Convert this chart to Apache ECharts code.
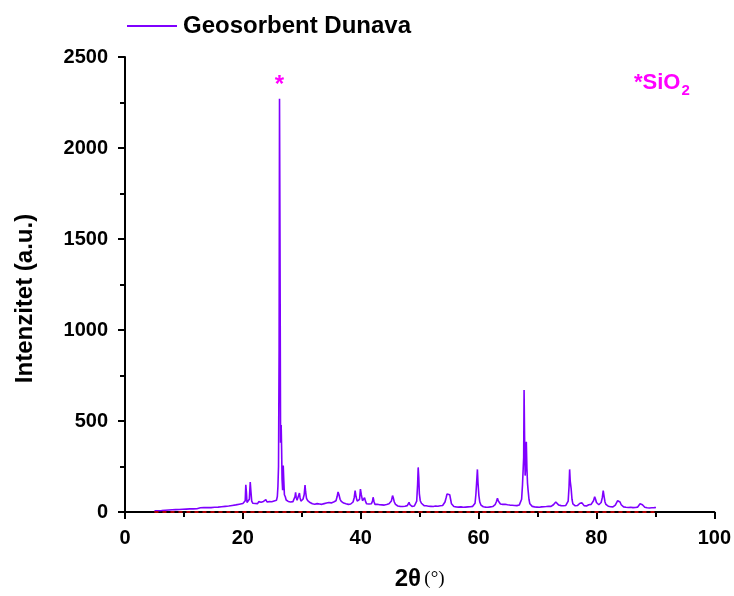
<!DOCTYPE html>
<html>
<head>
<meta charset="utf-8">
<script src="https://cdn.jsdelivr.net/npm/echarts@6/dist/echarts.min.js"></script>
<style>
html, body { margin: 0; padding: 0; background: #fff; }
#chart { width: 734px; height: 596px; }
</style>
</head>
<body>
<div id="chart"></div>
<script>
// XRD pattern - Geosorbent Dunava
var seriesName = "Geosorbent Dunava";
var xTicks = [0, 20, 40, 60, 80, 100];
var yTicks = [0, 500, 1000, 1500, 2000, 2500];
var baseline = [[5, 0], [90, 0]];

var twoTheta = [
  5.0, 5.3, 5.6, 5.9, 6.2, 6.5, 6.8, 7.1, 7.4, 7.7, 8.0, 8.3, 8.6, 8.9, 9.2, 9.5, 9.8,
  10.1, 10.4, 10.7, 11.0, 11.3, 11.6, 11.9, 12.2, 12.5, 12.8, 13.1, 13.4, 13.7, 14.0,
  14.3, 14.6, 14.9, 15.2, 15.5, 15.8, 16.1, 16.4, 16.7, 17.0, 17.3, 17.6, 17.9, 18.2,
  18.5, 18.8, 19.1, 19.4, 19.7, 20.0, 20.2, 20.4, 20.5, 20.6, 20.7, 20.85, 21.0, 21.1,
  21.25, 21.35, 21.5, 21.7, 21.9, 22.1, 22.3, 22.5, 22.7, 22.9, 23.1, 23.3, 23.5, 23.7,
  23.9, 24.0, 24.1, 24.3, 24.5, 24.7, 24.9, 25.1, 25.3, 25.5, 25.7, 25.85, 25.95, 26.05,
  26.15, 26.22, 26.3, 26.4, 26.5, 26.58, 26.65, 26.75, 26.85, 26.95, 27.05, 27.2, 27.35,
  27.5, 27.7, 27.9, 28.1, 28.3, 28.5, 28.7, 28.85, 28.95, 29.05, 29.2, 29.4, 29.6, 29.7,
  29.85, 30.0, 30.2, 30.4, 30.55, 30.65, 30.8, 31.0, 31.2, 31.4, 31.6, 31.8, 32.0, 32.2,
  32.4, 32.6, 32.8, 33.0, 33.2, 33.4, 33.6, 33.8, 34.0, 34.2, 34.4, 34.6, 34.8, 35.0,
  35.2, 35.4, 35.6, 35.8, 36.0, 36.15, 36.3, 36.5, 36.7, 36.9, 37.1, 37.3, 37.5, 37.7,
  37.9, 38.1, 38.3, 38.5, 38.7, 38.9, 39.05, 39.2, 39.4, 39.6, 39.8, 39.95, 40.1, 40.3,
  40.5, 40.65, 40.8, 41.0, 41.2, 41.4, 41.6, 41.8, 42.0, 42.1, 42.25, 42.4, 42.6, 42.8,
  43.0, 43.2, 43.4, 43.6, 43.8, 44.0, 44.2, 44.4, 44.6, 44.8, 45.0, 45.2, 45.4, 45.55,
  45.7, 45.9, 46.1, 46.3, 46.5, 46.7, 46.9, 47.1, 47.3, 47.5, 47.7, 47.9, 48.1, 48.2,
  48.35, 48.5, 48.7, 48.9, 49.1, 49.3, 49.5, 49.65, 49.75, 49.85, 49.95, 50.1, 50.3,
  50.5, 50.6, 50.75, 50.9, 51.1, 51.3, 51.5, 51.7, 51.9, 52.1, 52.3, 52.5, 52.7, 52.9,
  53.1, 53.3, 53.5, 53.7, 53.9, 54.1, 54.3, 54.5, 54.65, 54.8, 54.95, 55.1, 55.25, 55.4,
  55.6, 55.8, 56.0, 56.2, 56.4, 56.6, 56.8, 57.0, 57.2, 57.4, 57.6, 57.8, 58.0, 58.2,
  58.4, 58.6, 58.8, 59.0, 59.2, 59.4, 59.55, 59.7, 59.8, 59.9, 60.05, 60.2, 60.4, 60.6,
  60.8, 61.0, 61.2, 61.4, 61.6, 61.8, 62.0, 62.2, 62.4, 62.6, 62.8, 63.0, 63.2, 63.35,
  63.5, 63.7, 63.9, 64.1, 64.3, 64.5, 64.7, 64.9, 65.1, 65.3, 65.5, 65.7, 65.9, 66.1,
  66.3, 66.5, 66.7, 66.9, 67.1, 67.3, 67.45, 67.55, 67.65, 67.72, 67.8, 67.9, 68.0, 68.1,
  68.2, 68.3, 68.4, 68.55, 68.7, 68.9, 69.1, 69.3, 69.5, 69.7, 69.9, 70.1, 70.3, 70.5,
  70.7, 70.9, 71.1, 71.3, 71.5, 71.7, 71.9, 72.1, 72.3, 72.5, 72.7, 72.9, 73.1, 73.25,
  73.4, 73.6, 73.8, 74.0, 74.2, 74.4, 74.6, 74.8, 75.0, 75.2, 75.35, 75.45, 75.55, 75.7,
  75.85, 76.0, 76.2, 76.4, 76.6, 76.8, 77.0, 77.2, 77.4, 77.55, 77.7, 77.9, 78.1, 78.3,
  78.5, 78.7, 78.9, 79.1, 79.3, 79.5, 79.7, 79.85, 80.0, 80.2, 80.4, 80.6, 80.8, 81.0,
  81.15, 81.3, 81.45, 81.6, 81.8, 82.0, 82.2, 82.4, 82.6, 82.8, 83.0, 83.2, 83.4, 83.6,
  83.8, 84.0, 84.2, 84.4, 84.6, 84.8, 85.0, 85.2, 85.4, 85.6, 85.8, 86.0, 86.2, 86.4,
  86.6, 86.8, 87.0, 87.2, 87.4, 87.6, 87.8, 88.0, 88.2, 88.4, 88.6, 88.8, 89.0, 89.2,
  89.4, 89.6, 89.8, 90.0, 90.1
];

var intensity = [
  6, 9, 7, 11, 8, 12, 10, 14, 11, 15, 12, 16, 13, 18, 14, 19, 15,
  20, 16, 19, 17, 21, 17, 22, 18, 20, 23, 19, 24, 20, 25,
  21, 24, 22, 26, 23, 27, 24, 29, 26, 31, 28, 33, 30, 36,
  32, 39, 35, 43, 38, 47, 44, 62, 150, 110, 52, 58, 55, 70,
  165, 120, 60, 48, 55, 47, 53, 46, 57, 49, 54, 46, 58, 52,
  68, 72, 55, 50, 57, 49, 56, 51, 60, 54, 64, 85, 140, 250,
  900, 2270, 1500, 380, 478, 340, 180, 120, 255, 170, 95, 84, 66,
  70, 58, 62, 55, 60, 57, 66, 85, 108, 80, 65, 72, 104, 80,
  60, 64, 70, 95, 148, 110, 75, 62, 58, 52, 48, 45, 50, 43,
  40, 46, 39, 44, 38, 42, 40, 46, 43, 49, 45, 52, 47, 50,
  48, 55, 53, 62, 85, 110, 96, 70, 58, 54, 49, 52, 45, 48,
  42, 46, 44, 50, 55, 80, 117, 85, 60, 56, 70, 126, 95, 62,
  55, 79, 60, 45, 40, 44, 38, 45, 60, 81, 58, 42, 38, 43,
  36, 40, 34, 39, 33, 38, 35, 41, 37, 45, 48, 60, 90, 75,
  55, 42, 38, 33, 37, 31, 35, 30, 34, 32, 38, 35, 45, 53,
  40, 34, 31, 36, 33, 40, 60, 150, 245, 190, 100, 62, 48,
  40, 50, 35, 30, 34, 28, 32, 27, 31, 26, 30, 27, 33, 28,
  32, 29, 34, 31, 36, 40, 55, 80, 99, 90, 102, 95, 70, 45,
  35, 30, 33, 28, 31, 27, 32, 28, 30, 26, 31, 27, 30, 28,
  32, 29, 34, 31, 36, 48, 100, 180, 234, 160, 90, 55, 38, 33,
  29, 32, 27, 30, 26, 31, 28, 33, 30, 35, 40, 55, 75, 60,
  50, 44, 52, 42, 38, 43, 36, 40, 34, 38, 33, 37, 32, 36,
  31, 35, 33, 38, 45, 70, 148, 140, 300, 670, 420, 200, 260, 386,
  240, 159, 120, 70, 45, 35, 31, 34, 28, 32, 27, 31, 26, 30,
  28, 33, 29, 34, 30, 36, 32, 35, 31, 37, 40, 45, 55, 62,
  48, 38, 42, 35, 40, 34, 38, 36, 42, 60, 140, 234, 170, 130,
  70, 45, 38, 34, 40, 36, 42, 48, 57, 50, 40, 35, 38, 33,
  37, 40, 36, 42, 48, 62, 84, 70, 52, 42, 40, 45, 52, 80,
  117, 85, 55, 42, 36, 32, 35, 29, 33, 28, 34, 38, 48, 62,
  70, 55, 40, 32, 28, 31, 26, 29, 25, 30, 26, 29, 24, 28,
  25, 30, 27, 33, 45, 53, 40, 30, 26, 29, 23, 27, 22, 26,
  23, 27, 24, 28, 25
];

var pattern = [];
for (var i = 0; i < twoTheta.length; i++) {
  pattern.push([twoTheta[i], intensity[i]]);
}

var chart = echarts.init(document.getElementById("chart"));
var axisFont = { fontFamily: "Liberation Sans", fontWeight: "bold", fontSize: 20, color: "#000" };

var option = {
  animation: false,
  backgroundColor: "#fff",
  grid: { left: 125, right: 18, top: 57, bottom: 84 },
  legend: {
    left: 122, top: 9,
    itemWidth: 50, itemHeight: 2, itemGap: 10,
    icon: "rect",
    data: [seriesName],
    textStyle: { fontFamily: "Liberation Sans", fontWeight: "bold", fontSize: 24, color: "#000", padding: [0, 0, 0, 1] }
  },
  xAxis: {
    type: "value", min: xTicks[0], max: xTicks[xTicks.length - 1], interval: 20,
    name: "{b|2θ} {n|(°)}",
    nameLocation: "middle", nameGap: 55,
    nameTextStyle: {
      rich: {
        b: { fontFamily: "Liberation Sans", fontWeight: "bold", fontSize: 24, color: "#000" },
        n: { fontFamily: "Liberation Serif", fontSize: 19, color: "#000" }
      }
    },
    axisLine: { lineStyle: { color: "#000", width: 2 } },
    axisTick: { length: 7, lineStyle: { color: "#000", width: 2 } },
    minorTick: { show: true, splitNumber: 2, length: 5, lineStyle: { color: "#000", width: 2 } },
    axisLabel: Object.assign({ margin: 16 }, axisFont),
    splitLine: { show: false }
  },
  yAxis: {
    type: "value", min: yTicks[0], max: yTicks[yTicks.length - 1], interval: 500,
    name: "Intenzitet (a.u.)",
    nameLocation: "middle", nameGap: 88,
    nameTextStyle: { fontFamily: "Liberation Sans", fontWeight: "bold", fontSize: 24, color: "#000", padding: [0, 28, 0, 0] },
    axisLine: { show: true, lineStyle: { color: "#000", width: 2 } },
    axisTick: { show: true, length: 7, lineStyle: { color: "#000", width: 2 } },
    minorTick: { show: true, splitNumber: 2, length: 5, lineStyle: { color: "#000", width: 2 } },
    axisLabel: Object.assign({ margin: 17, formatter: function (v) { return String(v); } }, axisFont),
    splitLine: { show: false }
  },
  graphic: [
    {
      type: "text", left: 634, top: 72,
      style: {
        text: "{a|*SiO}{s|2}",
        rich: {
          a: { fontFamily: "Liberation Sans", fontWeight: "bold", fontSize: 22, fill: "#ff00ff" },
          s: { fontFamily: "Liberation Sans", fontWeight: "bold", fontSize: 15, fill: "#ff00ff", padding: [16, 0, 0, 1] }
        }
      }
    }
  ],
  series: [
    {
      name: seriesName,
      type: "line",
      data: pattern,
      symbol: "none",
      color: "#7f00ff",
      lineStyle: { width: 1.6, color: "#7f00ff" },
      z: 3,
      markPoint: {
        symbol: "circle", symbolSize: 0,
        label: {
          show: true, position: "top", distance: 1,
          formatter: "*",
          fontFamily: "Liberation Sans", fontWeight: "bold", fontSize: 24, color: "#ff00ff"
        },
        data: [{ coord: [26.22, 2270] }]
      }
    },
    {
      name: "baseline",
      type: "line",
      data: baseline,
      symbol: "none",
      silent: true,
      lineStyle: { width: 2, color: "#b00000", type: [4, 4] },
      z: 4
    }
  ]
};
chart.setOption(option);
</script>
</body>
</html>
